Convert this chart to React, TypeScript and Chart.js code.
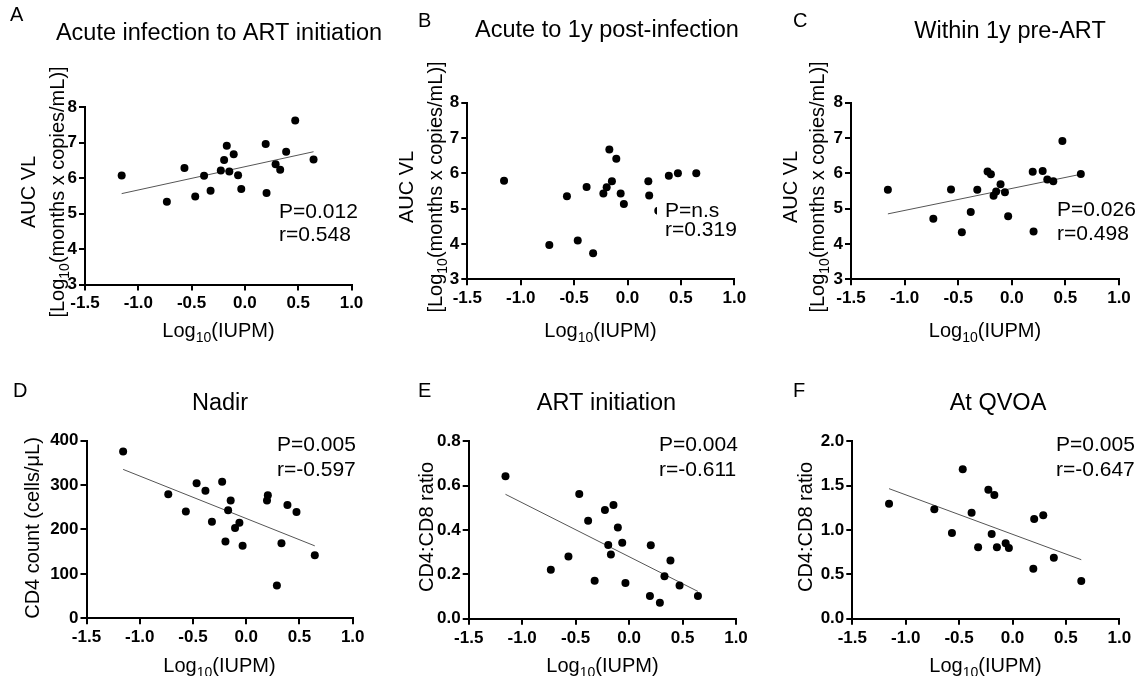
import React, { useEffect, useRef } from "react";
import { Chart, registerables } from "chart.js";

Chart.register(...registerables);

// ---------------- DATA ----------------
// Shared x values: Log10(IUPM) per participant
const iupm = [-1.156, -0.732, -0.567, -0.466, -0.383, -0.322, -0.226, -0.195, -0.17, -0.146, -0.105, -0.064, -0.034, 0.195, 0.203, 0.288, 0.331, 0.387, 0.472, 0.644];

// A: AUC VL, acute infection to ART initiation
const aucAcuteToArt = [6.07, 5.33, 6.28, 5.48, 6.06, 5.64, 6.21, 6.51, 6.91, 6.18, 6.67, 6.08, 5.69, 6.96, 5.58, 6.39, 6.23, 6.74, 7.62, 6.52];
// B: AUC VL, acute to 1y post-infection
const aucAcuteTo1y = [5.79, 3.97, 5.35, 4.1, 5.61, 3.74, 5.43, 5.6, 6.67, 5.77, 6.41, 5.43, 5.13, 5.77, 5.37, 4.94, null, 5.93, 6.0, 6.0];
// C: AUC VL, within 1y pre-ART
const aucPreArt = [5.53, 4.71, 5.54, 4.33, 4.9, 5.53, 6.05, 5.97, 5.36, 5.48, 5.69, 5.46, 4.78, 6.04, 4.35, 6.06, 5.82, 5.77, 6.91, 5.98];
// D: Nadir CD4 count
const cd4Nadir = [375, 279, 240, 304, 287, 217, 307, 173, 243, 265, 203, 215, 163, 265, 277, 74, 169, 255, 239, 142];
// E: CD4:CD8 ratio at ART initiation
const ratioArtInit = [0.642, 0.221, 0.281, 0.562, 0.442, 0.171, 0.49, 0.332, 0.29, 0.513, 0.411, 0.343, 0.161, 0.102, 0.331, 0.072, 0.191, 0.262, 0.15, 0.102];
// F: CD4:CD8 ratio at QVOA
const ratioQvoa = [1.297, 1.233, 0.966, 1.684, 1.195, 0.805, 1.455, 0.955, 1.395, 0.805, null, 0.85, 0.797, 0.564, 1.124, 1.165, null, 0.688, null, 0.425];

// Regression lines (endpoints)
const trendX = [-1.156, 0.644];
const trendA = [5.56, 6.74];
const trendC = [4.85, 5.97];
const trendD = [335, 163];
const trendE = [0.561, 0.123];
const trendF = [1.466, 0.665];

// Axis ticks
const xTickRange = [-1.5, 1.0, 0.5];
const vlTickRange = [3, 8, 1];
const cd4TickRange = [0, 400, 100];
const ratioArtTickRange = [0, 0.8, 0.2];
const ratioQvoaTickRange = [0, 2.0, 0.5];

// ---------------- LAYOUT ----------------
const W = 1137;
const H = 676;
const FONT = "'Liberation Sans', Arial, Helvetica, sans-serif";
const Y_AXIS_W = 45;
const X_AXIS_H = 30;

type Panel = {
  letter: string;
  title: string;
  values: (number | null)[];
  trend: number[] | null;
  yRange: number[];
  yDecimals: number;
  yTitle: string[];
  stats: string[];
  plot: number[]; // left, top, right, bottom
  letterPos: number[];
  titlePos: number[];
  yTitleX: number[];
  yTitleCy: number;
  xTitlePos: number[];
  statsPos: number[]; // left, baseline1, baseline2
  statsBg: boolean;
};

const PANELS: Panel[] = [
  {
    letter: "A", title: "Acute infection to ART initiation", values: aucAcuteToArt, trend: trendA,
    yRange: vlTickRange, yDecimals: 0, yTitle: ["AUC VL", "[Log_{10}(months x copies/mL)]"], stats: ["P=0.012", "r=0.548"],
    plot: [85, 107, 351.5, 284.5], letterPos: [10, 21], titlePos: [219, 40], yTitleX: [35, 64], yTitleCy: 192,
    xTitlePos: [218.5, 337], statsPos: [279, 218, 241], statsBg: false,
  },
  {
    letter: "B", title: "Acute to 1y post-infection", values: aucAcuteTo1y, trend: null,
    yRange: vlTickRange, yDecimals: 0, yTitle: ["AUC VL", "[Log_{10}(months x copies/mL)]"], stats: ["P=n.s", "r=0.319"],
    plot: [467.3, 102.5, 734.3, 279.3], letterPos: [418, 27], titlePos: [607, 37], yTitleX: [413, 442], yTitleCy: 187,
    xTitlePos: [600.5, 337], statsPos: [665, 217, 236], statsBg: true,
  },
  {
    letter: "C", title: "Within 1y pre-ART", values: aucPreArt, trend: trendC,
    yRange: vlTickRange, yDecimals: 0, yTitle: ["AUC VL", "[Log_{10}(months x copies/mL)]"], stats: ["P=0.026", "r=0.498"],
    plot: [851, 102.5, 1119, 279.3], letterPos: [793, 27], titlePos: [1010, 38], yTitleX: [797, 824], yTitleCy: 187,
    xTitlePos: [985, 337], statsPos: [1057, 216, 240], statsBg: false,
  },
  {
    letter: "D", title: "Nadir", values: cd4Nadir, trend: trendD,
    yRange: cd4TickRange, yDecimals: 0, yTitle: ["CD4 count (cells/μL)"], stats: ["P=0.005", "r=-0.597"],
    plot: [86.5, 440.5, 352.7, 618.3], letterPos: [13, 397], titlePos: [220, 410], yTitleX: [39], yTitleCy: 528,
    xTitlePos: [219.5, 672], statsPos: [277, 451, 476], statsBg: false,
  },
  {
    letter: "E", title: "ART initiation", values: ratioArtInit, trend: trendE,
    yRange: ratioArtTickRange, yDecimals: 1, yTitle: ["CD4:CD8 ratio"], stats: ["P=0.004", "r=-0.611"],
    plot: [468.7, 441.3, 736, 618.7], letterPos: [418, 397], titlePos: [606.5, 410], yTitleX: [433], yTitleCy: 527,
    xTitlePos: [602.5, 672], statsPos: [659, 451, 476], statsBg: false,
  },
  {
    letter: "F", title: "At QVOA", values: ratioQvoa, trend: trendF,
    yRange: ratioQvoaTickRange, yDecimals: 1, yTitle: ["CD4:CD8 ratio"], stats: ["P=0.005", "r=-0.647"],
    plot: [852.3, 441.3, 1119.3, 618.7], letterPos: [793, 397], titlePos: [998, 410], yTitleX: [812], yTitleCy: 527,
    xTitlePos: [985.5, 672], statsPos: [1056, 451, 476], statsBg: false,
  },
];

// ---------------- TEXT HELPERS ----------------
type Part = { t: string; sub: boolean };
function parseParts(s: string): Part[] {
  const parts: Part[] = [];
  const re = /_\{([^}]*)\}/g;
  let last = 0;
  let m: RegExpExecArray | null;
  while ((m = re.exec(s))) {
    if (m.index > last) parts.push({ t: s.slice(last, m.index), sub: false });
    parts.push({ t: m[1], sub: true });
    last = m.index + m[0].length;
  }
  if (last < s.length) parts.push({ t: s.slice(last), sub: false });
  return parts;
}

function drawRich(ctx: CanvasRenderingContext2D, s: string, x: number, y: number, size: number, align: "left" | "center") {
  const parts = parseParts(s);
  const subSize = Math.round(size * 0.68);
  const widths = parts.map((p) => {
    ctx.font = `${p.sub ? subSize : size}px ${FONT}`;
    return ctx.measureText(p.t).width;
  });
  const total = widths.reduce((a, b) => a + b, 0);
  let cx = align === "center" ? x - total / 2 : x;
  ctx.textAlign = "left";
  ctx.textBaseline = "alphabetic";
  parts.forEach((p, i) => {
    ctx.font = `${p.sub ? subSize : size}px ${FONT}`;
    ctx.fillText(p.t, cx, y + (p.sub ? size * 0.27 : 0));
    cx += widths[i];
  });
  return total;
}

function drawPanelText(ctx: CanvasRenderingContext2D, p: Panel) {
  ctx.save();
  ctx.fillStyle = "#000";
  drawRich(ctx, p.letter, p.letterPos[0], p.letterPos[1], 20, "left");
  drawRich(ctx, p.title, p.titlePos[0], p.titlePos[1], 23.5, "center");
  drawRich(ctx, "Log_{10}(IUPM)", p.xTitlePos[0], p.xTitlePos[1], 20, "center");
  p.yTitle.forEach((line, i) => {
    ctx.save();
    ctx.translate(p.yTitleX[i], p.yTitleCy);
    ctx.rotate(-Math.PI / 2);
    drawRich(ctx, line, 0, 0, 20, "center");
    ctx.restore();
  });
  const [sx, b1, b2] = p.statsPos;
  if (p.statsBg) {
    ctx.font = `21px ${FONT}`;
    const w = Math.max(ctx.measureText(p.stats[0]).width, ctx.measureText(p.stats[1]).width);
    ctx.fillStyle = "#fff";
    ctx.fillRect(sx - 8, b1 - 20, w + 12, b2 - b1 + 26);
    ctx.fillStyle = "#000";
  }
  drawRich(ctx, p.stats[0], sx, b1, 21, "left");
  drawRich(ctx, p.stats[1], sx, b2, 21, "left");
  ctx.restore();
}

// ---------------- CHART ----------------
function PanelChart({ p }: { p: Panel }) {
  const ref = useRef<HTMLCanvasElement>(null);

  useEffect(() => {
    const canvas = ref.current;
    if (!canvas) return;
    const [left, top, right, bottom] = p.plot;
    const points = iupm
      .map((x, i) => ({ x, y: p.values[i] }))
      .filter((d) => d.y !== null && d.y !== undefined) as { x: number; y: number }[];

    const datasets: any[] = [
      {
        label: "points",
        data: points,
        pointRadius: 4,
        pointHoverRadius: 4,
        backgroundColor: "#000",
        borderColor: "#000",
        borderWidth: 0,
        showLine: false,
      },
    ];
    if (p.trend) {
      datasets.push({
        label: "fit",
        data: trendX.map((x, i) => ({ x, y: p.trend![i] })),
        showLine: true,
        borderColor: "#555",
        borderWidth: 1,
        pointRadius: 0,
        pointHoverRadius: 0,
        fill: false,
      });
    }

    const tickFont = { family: FONT, size: 17, weight: "bold" as const };
    const axisGrid = { drawOnChartArea: false, drawTicks: true, tickLength: 6, color: "#000", lineWidth: 2 };
    const axisBorder = { display: true, color: "#000", width: 2 };

    const chart = new Chart(canvas, {
      type: "scatter",
      data: { datasets },
      options: {
        animation: false,
        responsive: false,
        maintainAspectRatio: false,
        events: [],
        layout: {
          padding: {
            left: left - Y_AXIS_W,
            top: top,
            right: W - right,
            bottom: H - bottom - X_AXIS_H,
          },
        },
        plugins: {
          legend: { display: false },
          tooltip: { enabled: false },
          title: { display: false },
        },
        scales: {
          x: {
            type: "linear",
            min: xTickRange[0],
            max: xTickRange[1],
            afterFit: (s: any) => {
              s.height = X_AXIS_H;
            },
            ticks: {
              stepSize: xTickRange[2],
              callback: (v: any) => Number(v).toFixed(1),
              font: tickFont,
              color: "#000",
              padding: 3,
              maxRotation: 0,
              autoSkip: false,
            },
            grid: axisGrid,
            border: axisBorder,
          },
          y: {
            type: "linear",
            min: p.yRange[0],
            max: p.yRange[1],
            afterFit: (s: any) => {
              s.width = Y_AXIS_W;
            },
            ticks: {
              stepSize: p.yRange[2],
              callback: (v: any) => Number(v).toFixed(p.yDecimals),
              font: tickFont,
              color: "#000",
              padding: 2,
              autoSkip: false,
            },
            grid: axisGrid,
            border: axisBorder,
          },
        },
      },
      plugins: [
        {
          id: "panelText" + p.letter,
          afterDraw: (c: any) => drawPanelText(c.ctx, p),
        },
      ],
    } as any);

    return () => chart.destroy();
  }, [p]);

  return (
    <canvas
      ref={ref}
      width={W}
      height={H}
      style={{ position: "absolute", left: 0, top: 0, width: W, height: H }}
    />
  );
}

export default function App() {
  return (
    <div style={{ position: "relative", width: W, height: H, background: "#fff", overflow: "hidden" }}>
      <style>{"body{margin:0;background:#fff;}"}</style>
      {PANELS.map((p) => (
        <PanelChart key={p.letter} p={p} />
      ))}
    </div>
  );
}
